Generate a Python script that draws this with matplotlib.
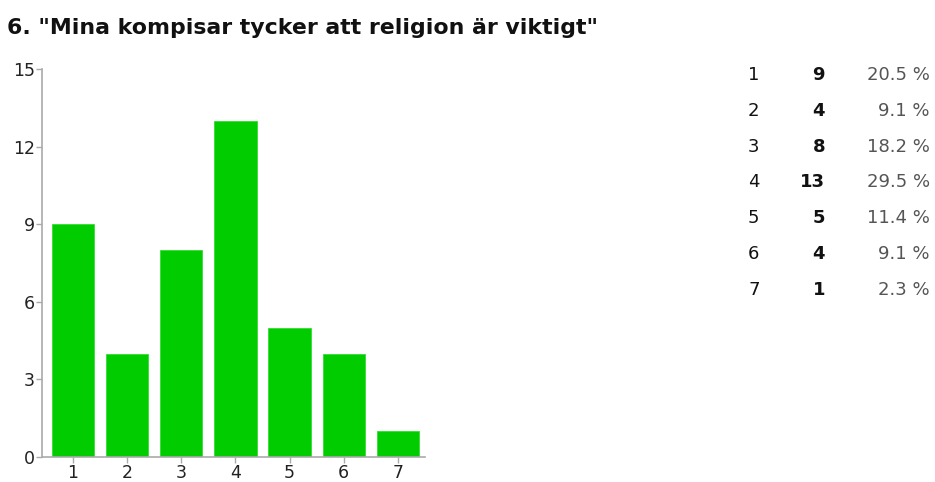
import matplotlib
matplotlib.use("Agg")
import matplotlib.pyplot as plt

title = '6. "Mina kompisar tycker att religion är viktigt"'
categories = ["1", "2", "3", "4", "5", "6", "7"]
counts = [9, 4, 8, 13, 5, 4, 1]
percents = ["20.5 %", "9.1 %", "18.2 %", "29.5 %", "11.4 %", "9.1 %", "2.3 %"]
yticks = [0, 3, 6, 9, 12, 15]

plt.rcParams['font.family'] = ['DejaVu Sans']

W, H = 935, 482
fig = plt.figure(figsize=(W / 100, H / 100), dpi=100)
fig.patch.set_facecolor('white')

x0, x1, yb, yt = 42, 425, 457, 69
ax = fig.add_axes([x0 / W, 1 - yb / H, (x1 - x0) / W, (yb - yt) / H])
xs = list(range(1, len(categories) + 1))
ax.bar(xs, counts, width=0.78, color='#00CC00', edgecolor='#33dd33', linewidth=0.6, zorder=2)
ax.set_xlim(0.43, 7.5)
ax.set_ylim(0, 15)
ax.set_xticks(xs)
ax.set_xticklabels(categories)
ax.set_yticks(yticks)
ax.set_yticklabels([str(v) for v in yticks])
for s in ['top', 'right']:
    ax.spines[s].set_visible(False)
for s in ['left', 'bottom']:
    ax.spines[s].set_color('#aaaaaa')
    ax.spines[s].set_linewidth(1.2)
ax.tick_params(axis='both', colors='#aaaaaa', labelcolor='#222222', labelsize=12.5, length=4, width=1)
ax.tick_params(axis='x', pad=1)
ax.tick_params(axis='y', pad=1)

fig.text(7 / W, 1 - 28 / H, title, fontsize=15.8, fontweight='bold', color='#111111', va='center', ha='left')

row_y0 = 75
row_dy = 35.8
for i, (c, n, p) in enumerate(zip(categories, counts, percents)):
    y = 1 - (row_y0 + i * row_dy) / H
    fig.text(748 / W, y, c, fontsize=13, color='#111111', va='center', ha='left')
    fig.text(825 / W, y, str(n), fontsize=13, fontweight='bold', color='#111111', va='center', ha='right')
    fig.text(930 / W, y, p, fontsize=13, color='#555555', va='center', ha='right')

fig.savefig('out.png', dpi=100, facecolor='white')
